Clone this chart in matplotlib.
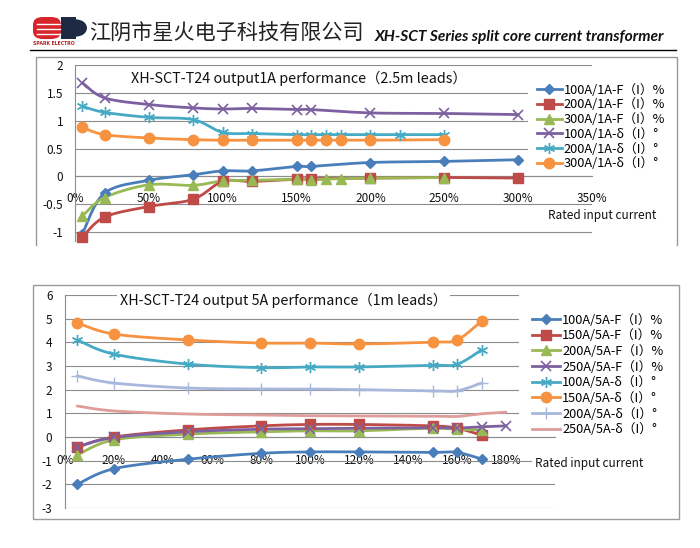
import numpy as np
import matplotlib
matplotlib.use("Agg")
import matplotlib.pyplot as plt
from matplotlib.lines import Line2D
from matplotlib.patches import Rectangle, FancyBboxPatch, Wedge

plt.rcParams['font.family'] = ['Noto Sans CJK SC', 'DejaVu Sans']

# ---------------- data: 1A output (2.5m leads) ----------------
x1_main = [0.05, 0.2, 0.5, 0.8, 1.0, 1.2, 1.5, 1.6, 2.0, 2.5, 3.0]
f100_1a = [-1.03, -0.30, -0.07, 0.03, 0.10, 0.10, 0.18, 0.18, 0.25, 0.27, 0.30]
f200_1a = [-1.09, -0.73, -0.54, -0.41, -0.09, -0.09, -0.05, -0.04, -0.03, -0.02, -0.03]
x1_f300 = [0.05, 0.2, 0.5, 0.8, 1.0, 1.2, 1.5, 1.6, 1.7, 1.8, 2.0, 2.5]
f300_1a = [-0.71, -0.38, -0.15, -0.16, -0.08, -0.07, -0.05, -0.06, -0.05, -0.04, -0.03, -0.02]
d100_1a = [1.68, 1.41, 1.29, 1.23, 1.21, 1.22, 1.20, 1.20, 1.14, 1.13, 1.11]
x1_d200 = [0.05, 0.2, 0.5, 0.8, 1.0, 1.2, 1.5, 1.6, 1.7, 1.8, 2.0, 2.2, 2.5]
d200_1a = [1.26, 1.15, 1.06, 1.02, 0.79, 0.77, 0.75, 0.75, 0.75, 0.75, 0.75, 0.75, 0.75]
x1_d300 = [0.05, 0.2, 0.5, 0.8, 1.0, 1.2, 1.5, 1.6, 1.7, 1.8, 2.0, 2.5]
d300_1a = [0.88, 0.75, 0.69, 0.66, 0.65, 0.65, 0.65, 0.65, 0.65, 0.65, 0.65, 0.66]

labels_1a = ["100A/1A-F（I）%", "200A/1A-F（I）%", "300A/1A-F（I）%",
             "100A/1A-δ（I）°", "200A/1A-δ（I）°", "300A/1A-δ（I）°"]

# ---------------- data: 5A output (1m leads) ----------------
x5 = [0.05, 0.2, 0.5, 0.8, 1.0, 1.2, 1.5, 1.6, 1.7]
x5_long = [0.05, 0.2, 0.5, 0.8, 1.0, 1.2, 1.5, 1.6, 1.7, 1.8]
f100_5a = [-2.00, -1.34, -0.94, -0.69, -0.63, -0.63, -0.65, -0.65, -0.93]
f150_5a = [-0.42, 0.00, 0.30, 0.47, 0.53, 0.53, 0.47, 0.37, 0.08]
f200_5a = [-0.76, -0.12, 0.12, 0.22, 0.26, 0.26, 0.37, 0.32, 0.30]
f250_5a = [-0.42, -0.02, 0.22, 0.33, 0.35, 0.37, 0.39, 0.38, 0.43, 0.47]
d100_5a = [4.10, 3.50, 3.08, 2.93, 2.96, 2.96, 3.03, 3.07, 3.68]
d150_5a = [4.82, 4.35, 4.10, 3.97, 3.97, 3.93, 4.01, 4.10, 4.90]
d200_5a = [2.58, 2.28, 2.07, 2.03, 2.03, 2.00, 1.95, 1.95, 2.28]
d250_5a = [1.31, 1.10, 0.97, 0.93, 0.90, 0.89, 0.88, 0.87, 0.98, 1.05]

labels_5a = ["100A/5A-F（I）%", "150A/5A-F（I）%", "200A/5A-F（I）%", "250A/5A-F（I）%",
             "100A/5A-δ（I）°", "150A/5A-δ（I）°", "200A/5A-δ（I）°", "250A/5A-δ（I）°"]

xt_1a = [0, 0.5, 1.0, 1.5, 2.0, 2.5, 3.0, 3.5]
xt_1a_lab = ["0%", "50%", "100%", "150%", "200%", "250%", "300%", "350%"]
yt_1a = [-1, -0.5, 0, 0.5, 1, 1.5, 2]
yt_1a_lab = ["-1", "-0.5", "0", "0.5", "1", "1.5", "2"]
xt_5a = [0, 0.2, 0.4, 0.6, 0.8, 1.0, 1.2, 1.4, 1.6, 1.8]
xt_5a_lab = ["0%", "20%", "40%", "60%", "80%", "100%", "120%", "140%", "160%", "180%"]
yt_5a = [-3, -2, -1, 0, 1, 2, 3, 4, 5, 6]

BLUE, RED, GREEN, PURPLE = '#4A7EBB', '#BE4B48', '#98B954', '#7D60A0'
CYAN, ORANGE, LBLUE, PINK = '#46AAC5', '#F69240', '#A7B8DC', '#DE9C9A'
GRID = '#8c8c8c'
ASTER = (6, 2, 0)


def smooth(xs, ys, n=20):
    P = np.column_stack([xs, ys]).astype(float)
    m = len(P)
    out = [P[0]]
    t = np.linspace(0, 1, n + 1)[1:, None]
    for i in range(m - 1):
        p0 = P[i - 1] if i > 0 else P[i]
        p3 = P[i + 2] if i + 2 < m else P[i + 1]
        c1 = P[i] + (P[i + 1] - p0) / 6.0
        c2 = P[i + 1] - (p3 - P[i]) / 6.0
        seg = ((1 - t) ** 3) * P[i] + 3 * ((1 - t) ** 2) * t * c1 + 3 * (1 - t) * t ** 2 * c2 + t ** 3 * P[i + 1]
        out.extend(seg)
    out = np.array(out)
    return out[:, 0], out[:, 1]


def fx(px):
    return px / 700.0


def fy(py):
    return 1 - py / 548.0


fig = plt.figure(figsize=(7, 5.48), dpi=100)
fig.patch.set_facecolor('white')

# ---------------- header ----------------
fig.add_artist(Line2D([fx(30), fx(676)], [fy(50), fy(50)], color='black', lw=1.0))
# logo approximation
fig.add_artist(FancyBboxPatch((fx(33), fy(39)), fx(28), fy(17) - fy(39),
                              boxstyle='round,pad=0,rounding_size=0.014', fc='#D7262B', ec='none'))
for yy in (24, 29, 34):
    fig.add_artist(Line2D([fx(37), fx(60)], [fy(yy), fy(yy)], color='white', lw=1.0))
fig.add_artist(Rectangle((fx(61), fy(39)), fx(15), fy(17) - fy(39), fc='#1E2A44', ec='none'))
fig.add_artist(Wedge((fx(76), fy(28)), 0.0157, -90, 90, fc='#1E2A44', ec='none'))
fig.text(fx(33), fy(43.5), "SPARK ELECTRO", fontsize=3.3, color='#B22222', va='center', ha='left',
         family='DejaVu Sans', fontweight='bold')
fig.text(fx(89), fy(34), "江阴市星火电子科技有限公司", fontsize=15.2, color='#222222',
         va='center', ha='left')
fig.text(fx(375), fy(37), "XH-SCT Series split core current transformer", fontsize=11.2,
         fontweight='bold', fontstyle='italic', family='Lato', color='#111111',
         va='center', ha='left')

# panel borders
fig.add_artist(Line2D([fx(36), fx(36), fx(677), fx(677)], [fy(245), fy(57), fy(57), fy(245)],
                      color='#9a9a9a', lw=1.0))
fig.add_artist(Rectangle((fx(33), fy(519)), fx(679) - fx(33), fy(285) - fy(519),
                         fill=False, ec='#9a9a9a', lw=1.0))


def style_axes(ax, xlim, ylim, xt, xtl, yt, ytl, xpad, ypad):
    ax.set_xlim(*xlim)
    ax.set_ylim(*ylim)
    ax.set_facecolor('none')
    ax.set_axisbelow(True)
    ax.yaxis.grid(True, color=GRID, lw=0.8)
    for s in ('top', 'right'):
        ax.spines[s].set_visible(False)
    ax.spines['left'].set_color(GRID)
    ax.spines['left'].set_linewidth(0.8)
    ax.spines['bottom'].set_position(('data', 0))
    ax.spines['bottom'].set_color(GRID)
    ax.spines['bottom'].set_linewidth(0.8)
    ax.set_xticks(xt)
    ax.set_xticklabels(xtl)
    ax.set_yticks(yt)
    ax.set_yticklabels(ytl)
    ax.tick_params(axis='x', length=0, pad=xpad, labelsize=8.5, labelcolor='#111111')
    ax.tick_params(axis='y', length=0, pad=ypad, labelsize=8.5, labelcolor='#111111')


def draw(ax, xs, ys, color, marker, ms, mew=1.0, lw=2.0, z=3):
    sx, sy = smooth(xs, ys)
    ax.plot(sx, sy, color=color, lw=lw, zorder=z, solid_capstyle='round', clip_on=False)
    if marker is not None:
        ax.plot(xs, ys, ls='none', marker=marker, ms=ms, color=color,
                mfc=color, mec=color, mew=mew, zorder=z + 0.1, clip_on=False)
    return Line2D([], [], color=color, lw=lw, marker=marker, ms=ms,
                  mfc=color, mec=color, mew=mew)


# ---------------- top chart ----------------
ax1 = fig.add_axes([fx(75), fy(240.5), fx(592) - fx(75), fy(65) - fy(240.5)])
style_axes(ax1, (0, 3.5), (-1.15, 2), xt_1a, xt_1a_lab, yt_1a, yt_1a_lab, 11.5, 8.5)
h1 = []
h1.append(draw(ax1, x1_main, f100_1a, BLUE, 'D', 5.5))
h1.append(draw(ax1, x1_main, f200_1a, RED, 's', 7))
h1.append(draw(ax1, x1_f300, f300_1a, GREEN, '^', 7))
h1.append(draw(ax1, x1_main, d100_1a, PURPLE, 'x', 7, mew=1.2))
h1.append(draw(ax1, x1_d200, d200_1a, CYAN, ASTER, 8, mew=1.0))
h1.append(draw(ax1, x1_d300, d300_1a, ORANGE, 'o', 7.5))
fig.text(fx(131), fy(78), "XH-SCT-T24 output1A performance（2.5m leads）", fontsize=10.3,
         va='center', ha='left', color='#111111')

# white areas behind legends (cover gridlines like the original legend boxes)
fig.add_artist(Rectangle((fx(528), fy(173)), fx(676) - fx(528), fy(72) - fy(173),
                         fc='white', ec='none', zorder=2))
fig.add_artist(Rectangle((fx(519), fy(434)), fx(678) - fx(519), fy(292) - fy(434),
                         fc='white', ec='none', zorder=2))

leg1 = fig.legend(h1, labels_1a, loc='upper left', bbox_to_anchor=(fx(537), fy(83.5)),
                  bbox_transform=fig.transFigure, frameon=False, fontsize=9.2,
                  handlelength=1.95, handletextpad=0.15, labelspacing=0.14,
                  borderpad=0, borderaxespad=0)
leg1.set_zorder(5)
fig.text(fx(548), fy(215), "Rated input current", fontsize=8.5, va='center', ha='left',
         color='#111111')

# ---------------- bottom chart ----------------
ax2 = fig.add_axes([fx(65), fy(508), fx(555) - fx(65), fy(295) - fy(508)])
style_axes(ax2, (0, 2.0), (-3, 6), xt_5a, xt_5a_lab, yt_5a, [str(v) for v in yt_5a], 12, 9)
h2 = []
h2.append(draw(ax2, x5, f100_5a, BLUE, 'D', 5.5))
h2.append(draw(ax2, x5, f150_5a, RED, 's', 7))
h2.append(draw(ax2, x5, f200_5a, GREEN, '^', 7))
h2.append(draw(ax2, x5_long, f250_5a, PURPLE, 'x', 7, mew=1.2))
h2.append(draw(ax2, x5, d100_5a, CYAN, ASTER, 8, mew=1.0))
h2.append(draw(ax2, x5, d150_5a, ORANGE, 'o', 7.5))
h2.append(draw(ax2, x5, d200_5a, LBLUE, '+', 8, mew=1.0))
h2.append(draw(ax2, x5_long, d250_5a, PINK, None, 0))
fig.text(fx(120), fy(300), "XH-SCT-T24 output 5A performance（1m leads）", fontsize=10.3,
         va='center', ha='left', color='#111111',
         bbox=dict(fc='white', ec='none', pad=2))
leg2 = fig.legend(h2, labels_5a, loc='upper left', bbox_to_anchor=(fx(532), fy(313.5)),
                  bbox_transform=fig.transFigure, frameon=False, fontsize=9.2,
                  handlelength=2.2, handletextpad=0.15, labelspacing=0.21,
                  borderpad=0, borderaxespad=0)
leg2.set_zorder(5)
fig.text(fx(535), fy(464), "Rated input current", fontsize=8.5, va='center', ha='left',
         color='#111111', bbox=dict(fc='white', ec='none', pad=2), zorder=3)

fig.savefig("out.png", dpi=100, facecolor='white')
